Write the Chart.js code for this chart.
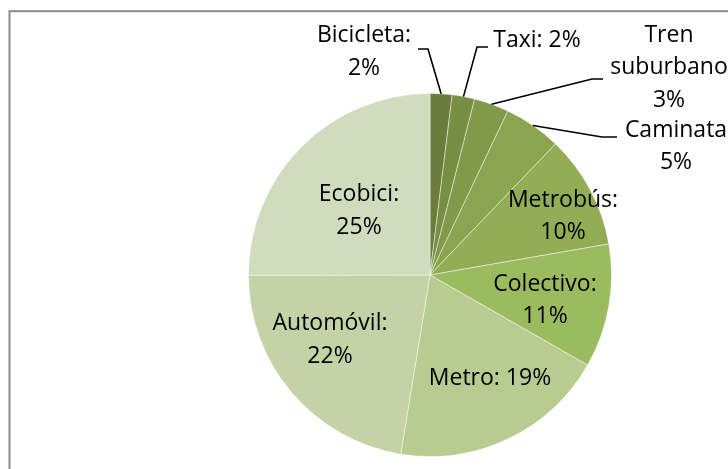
<!DOCTYPE html>
<html>
<head>
<meta charset="utf-8">
<script src="https://cdn.jsdelivr.net/npm/chart.js@4/dist/chart.umd.min.js"></script>
<style>
    html, body { margin: 0; padding: 0; background: #fff; }
    #contenedor { width: 728px; height: 469px; position: relative; }
</style>
</head>
<body>
<div id="contenedor"><canvas id="repartoChart" width="728" height="469"></canvas></div>
<script>
// Datos
const categorias = ['Bicicleta', 'Taxi', 'Tren suburbano', 'Caminata', 'Metrobús', 'Colectivo', 'Metro', 'Automóvil', 'Ecobici'];
const porcentajes = [1.95, 2.0, 3.1, 5.1, 10.1, 11.0, 19.3, 22.4, 25.0];
const textos = [
    ['Bicicleta:', '2%'],
    ['Taxi: 2%'],
    ['Tren', 'suburbano', '3%'],
    ['Caminata', '5%'],
    ['Metrobús:', '10%'],
    ['Colectivo:', '11%'],
    ['Metro: 19%'],
    ['Automóvil:', '22%'],
    ['Ecobici:', '25%']
];

const colores = ['#6a7d3b', '#778f43', '#81994a', '#8aa54f', '#92ad55', '#9bbb5f', '#b8cc92', '#c3d3a6', '#cfdcbe'];

// posicion de cada etiqueta respecto al centro (x, primera linea base), y quiebre de la guia si la hay
const posEtiquetas = [
    { dx: -66, dy: -232.7, guia: [[-2, -226], [-12, -226]] },
    { dx: 107, dy: -228.3, guia: [[47, -228], [58, -228]] },
    { dx: 239, dy: -233.3, guia: [[162, -196], [173, -196]] },
    { dx: 246, dy: -138.3, guia: [[172, -138], [187, -138]] },
    { dx: 133, dy: -68.3 },
    { dx: 115, dy: 15.7 },
    { dx: 60, dy: 110 },
    { dx: -100, dy: 55 },
    { dx: -71, dy: -74 }
];
const altoLinea = 32.6;

const marcoPlugin = {
    id: 'marco',
    beforeDraw(chart) {
        const ctx = chart.ctx;
        ctx.save();
        ctx.strokeStyle = '#8c8c8c';
        ctx.lineWidth = 2;
        ctx.strokeRect(9.5, 11.2, 800, 600);
        ctx.restore();
    }
};

const etiquetasPlugin = {
    id: 'etiquetas',
    afterDatasetsDraw(chart) {
        const ctx = chart.ctx;
        const arcos = chart.getDatasetMeta(0).data;
        ctx.save();
        ctx.font = '23px "Open Sans"';
        ctx.fillStyle = '#000';
        ctx.textAlign = 'center';
        ctx.textBaseline = 'alphabetic';
        arcos.forEach(function (arco, i) {
            const p = arco.getProps(['x', 'y', 'startAngle', 'endAngle', 'outerRadius'], true);
            const pos = posEtiquetas[i];
            if (pos.guia) {
                const medio = (p.startAngle + p.endAngle) / 2;
                ctx.beginPath();
                ctx.strokeStyle = '#000';
                ctx.lineWidth = 1.6;
                ctx.moveTo(p.x + Math.cos(medio) * p.outerRadius, p.y + Math.sin(medio) * p.outerRadius);
                pos.guia.forEach(function (pt) {
                    ctx.lineTo(p.x + pt[0], p.y + pt[1]);
                });
                ctx.stroke();
            }
            textos[i].forEach(function (linea, j) {
                ctx.fillText(linea, p.x + pos.dx, p.y + pos.dy + j * altoLinea);
            });
        });
        ctx.restore();
    }
};

var ctxReparto = document.getElementById('repartoChart').getContext('2d');
var repartoChart = new Chart(ctxReparto, {
    type: 'pie',
    data: {
        labels: categorias,
        datasets: [{
            data: porcentajes,
            backgroundColor: colores,
            borderColor: 'rgba(255, 255, 255, 0.45)',
            borderWidth: 1
        }]
    },
    options: {
        responsive: false,
        animation: false,
        layout: { padding: { left: 247, right: 115, top: 93, bottom: 12 } },
        plugins: {
            legend: { display: false },
            tooltip: { enabled: false }
        }
    },
    plugins: [marcoPlugin, etiquetasPlugin]
});
</script>
</body>
</html>
